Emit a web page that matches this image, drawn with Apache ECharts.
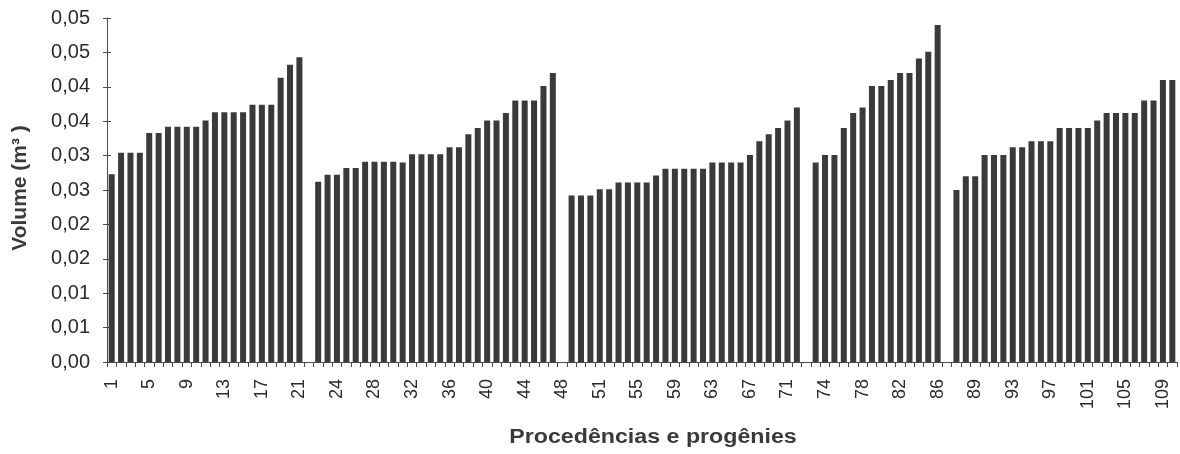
<!DOCTYPE html>
<html>
<head>
<meta charset="utf-8">
<script src="https://cdn.jsdelivr.net/npm/echarts@6/dist/echarts.min.js"></script>
<style>
  html, body { margin: 0; padding: 0; background: #ffffff; }
  #chart { width: 1180px; height: 454px; }
</style>
</head>
<body>
<div id="chart"></div>
<script>
// Progeny numbers of each provenance
const prov1Ids = [1, 2, 3, 4, 5, 6, 7, 8, 9, 10, 11, 12, 13, 14, 15, 16, 17, 18, 19, 20, 21];
const prov2Ids = [22, 23, 24, 25, 26, 27, 28, 29, 30, 31, 32, 33, 34, 35, 36, 37, 38, 39, 40, 41, 42, 43, 44, 45, 46, 47];
const prov3Ids = [48, 49, 50, 51, 52, 53, 54, 55, 56, 57, 58, 59, 60, 61, 62, 63, 64, 65, 66, 67, 68, 69, 70, 71, 72];
const prov4Ids = [73, 74, 75, 76, 77, 78, 79, 80, 81, 82, 83, 84, 85, 86];
const prov5Ids = [87, 88, 89, 90, 91, 92, 93, 94, 95, 96, 97, 98, 99, 100, 101, 102, 103, 104, 105, 106, 107, 108, 109, 110];

// Volume (m3) of each progeny, sorted within its provenance
const prov1Vol = [0.0273, 0.0304, 0.0304, 0.0304, 0.0333, 0.0333, 0.0342, 0.0342, 0.0342, 0.0342, 0.0351,
                  0.0363, 0.0363, 0.0363, 0.0363, 0.0374, 0.0374, 0.0374, 0.0413, 0.0432, 0.0443];
const prov2Vol = [0.0262, 0.0272, 0.0272, 0.0282, 0.0282, 0.0291, 0.0291, 0.0291, 0.0291, 0.0290, 0.0302,
                  0.0302, 0.0302, 0.0302, 0.0312, 0.0312, 0.0331, 0.0340, 0.0351, 0.0351, 0.0362, 0.0380,
                  0.0380, 0.0380, 0.0401, 0.0420];
const prov3Vol = [0.0242, 0.0242, 0.0242, 0.0251, 0.0251, 0.0261, 0.0261, 0.0261, 0.0261, 0.0271, 0.0281,
                  0.0281, 0.0281, 0.0281, 0.0281, 0.0290, 0.0290, 0.0290, 0.0290, 0.0301, 0.0321, 0.0331,
                  0.0340, 0.0351, 0.0370];
const prov4Vol = [0.0290, 0.0301, 0.0301, 0.0340, 0.0362, 0.0370, 0.0401, 0.0401, 0.0410, 0.0420, 0.0420,
                  0.0441, 0.0451, 0.0490];
const prov5Vol = [0.0250, 0.0270, 0.0270, 0.0301, 0.0301, 0.0301, 0.0312, 0.0312, 0.0321, 0.0321, 0.0321,
                  0.0340, 0.0340, 0.0340, 0.0340, 0.0351, 0.0362, 0.0362, 0.0362, 0.0362, 0.0380, 0.0380,
                  0.0410, 0.0410];

// Labels of the empty slots that separate the provenances
const gapLabels = ['', '48', '', ''];

// Value axis: 0 to 0.05 m3 every 0.005, printed with two decimals and a comma
const yMin = 0;
const yMax = 0.05;
const yStep = 0.005;

const groups = [
  [prov1Ids, prov1Vol],
  [prov2Ids, prov2Vol],
  [prov3Ids, prov3Vol],
  [prov4Ids, prov4Vol],
  [prov5Ids, prov5Vol]
];

const categories = [];
const volumes = [];
groups.forEach(([ids, vols], g) => {
  ids.forEach((id, i) => {
    categories.push(String(id));
    volumes.push(vols[i]);
  });
  if (g < groups.length - 1) {
    categories.push(gapLabels[g]);
    volumes.push('-');
  }
});

function volLabel(v) {
  const thousandths = Math.round(v * 1000);
  const hundredths = Math.round(thousandths / 10);
  return (hundredths / 100).toFixed(2).replace('.', ',');
}

const ink = '#2b2b2b';
const titleInk = '#3a3a3a';
const axisInk = '#4a4a4a';
const font = '"Liberation Sans", Arial, sans-serif';

const chart = echarts.init(document.getElementById('chart'), null, { renderer: 'canvas' });
chart.setOption({
  animation: false,
  backgroundColor: '#ffffff',
  grid: { left: 107, right: 3, top: 18, bottom: 92, containLabel: false, outerBoundsMode: 'none' },
  xAxis: {
    type: 'category',
    data: categories,
    boundaryGap: true,
    axisLine: { show: true, lineStyle: { color: axisInk, width: 1 } },
    axisTick: { show: true, interval: 0, length: 5, lineStyle: { color: axisInk } },
    axisLabel: {
      interval: 3,
      rotate: 90,
      margin: 17,
      fontSize: 18,
      fontFamily: font,
      color: ink
    },
    splitLine: { show: false }
  },
  yAxis: [
    {
      type: 'value',
      min: yMin,
      max: yMax,
      interval: yStep,
      axisLine: { show: true, lineStyle: { color: axisInk, width: 1 } },
      axisTick: { show: true, length: 4, lineStyle: { color: axisInk } },
      axisLabel: {
        formatter: volLabel,
        margin: 17,
        fontSize: 20,
        fontFamily: font,
        color: ink
      },
      splitLine: { show: false }
    },
    {
      // inner half of the cross ticks on the value axis
      type: 'value',
      position: 'left',
      min: yMin,
      max: yMax,
      interval: yStep,
      axisLine: { show: false },
      axisTick: { show: true, inside: true, length: 4, lineStyle: { color: axisInk } },
      axisLabel: { show: false },
      splitLine: { show: false }
    }
  ],
  series: [
    {
      type: 'bar',
      data: volumes,
      yAxisIndex: 0,
      barWidth: 6,
      itemStyle: { color: '#3a3a3a' }
    }
  ],
  graphic: [
    {
      type: 'text',
      x: 20,
      y: 188,
      rotation: Math.PI / 2,
      style: {
        text: 'Volume (m³ )',
        font: 'bold 21px ' + font,
        fill: titleInk,
        textAlign: 'center',
        textVerticalAlign: 'middle'
      }
    },
    {
      type: 'text',
      x: 653,
      y: 437,
      scaleX: 1.16,
      style: {
        text: 'Procedências e progênies',
        font: 'bold 20px ' + font,
        fill: titleInk,
        textAlign: 'center',
        textVerticalAlign: 'middle'
      }
    }
  ]
});
</script>
</body>
</html>
